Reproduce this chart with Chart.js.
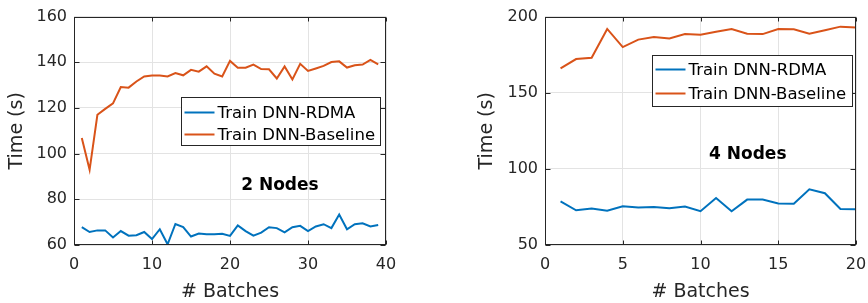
<!DOCTYPE html>
<html><head><meta charset="utf-8">
<script src="https://cdn.jsdelivr.net/npm/chart.js@4/dist/chart.umd.min.js"></script>
<style>
body{margin:0;background:#fff}
#wrap{position:relative;width:868px;height:303px;overflow:hidden}
canvas{position:absolute;top:0}
</style>
</head><body>
<div id="wrap">
<canvas id="c1" width="434" height="303" style="left:0"></canvas>
<canvas id="c2" width="470" height="303" style="left:434px"></canvas>
</div>
<script>
// ---- data ----
const batches2 = [1,2,3,4,5,6,7,8,9,10,11,12,13,14,15,16,17,18,19,20,21,22,23,24,25,26,27,28,29,30,31,32,33,34,35,36,37,38,39];
const rdma2 = [67.8,65.7,66.4,66.4,63.3,66.1,64.1,64.3,65.7,62.6,66.9,60.3,69.2,67.8,63.7,65.0,64.7,64.7,64.9,64.0,68.6,66.1,64.1,65.4,67.8,67.4,65.5,67.8,68.4,66.1,68.1,69.1,67.4,73.3,66.9,69.1,69.5,68.1,68.8];
const base2 = [106.8,92.9,117.0,119.6,122.0,129.2,128.9,131.6,133.8,134.2,134.2,133.8,135.3,134.3,136.7,135.9,138.2,135.0,133.8,140.6,137.6,137.6,139.0,137.0,136.9,132.9,138.2,132.5,139.3,136.2,137.3,138.4,140.1,140.4,137.7,138.7,139.0,141.0,139.1];
const batches4 = [1,2,3,4,5,6,7,8,9,10,11,12,13,14,15,16,17,18,19,20];
const rdma4 = [78.7,72.8,73.9,72.5,75.5,74.7,74.9,74.1,75.3,72.2,80.9,72.2,79.8,79.8,77.3,77.1,86.6,84.0,73.6,73.4];
const base4 = [166.0,172.1,173.0,191.9,180.0,184.9,186.6,185.7,188.5,188.1,190.0,191.9,188.7,188.5,191.9,191.7,188.7,191.0,193.4,192.8];
const xTicks2 = [0,10,20,30,40];
const yTicks2 = [60,80,100,120,140,160];
const xTicks4 = [0,5,10,15,20];
const yTicks4 = [50,100,150,200];
const seriesNames = ['Train DNN-RDMA','Train DNN-Baseline'];
const panelLabels = ['2 Nodes','4 Nodes'];
const xTitle = '# Batches';
const yTitle = 'Time (s)';

// ---- styling ----
const FONT = "'DejaVu Sans', sans-serif";
const AX = '#262626';
const BLUE = '#0072BD', ORANGE = '#D95319';

const matlabPlugin = {
  id: 'matlab',
  afterDatasetsDraw(chart, args, o) {
    const {ctx, chartArea: a, scales: {x, y}} = chart;
    const L = Math.round(a.left) + 0.5, R = Math.round(a.right) - 0.5;
    const T = Math.round(a.top) + 0.5, B = Math.round(a.bottom) - 0.5;
    ctx.save();
    ctx.strokeStyle = AX; ctx.lineWidth = 1;
    ctx.beginPath();
    x.ticks.forEach(t => {
      const p = Math.round(x.getPixelForValue(t.value)) + 0.5;
      ctx.moveTo(p, B); ctx.lineTo(p, B - 4);
      ctx.moveTo(p, T); ctx.lineTo(p, T + 4);
    });
    y.ticks.forEach(t => {
      const p = Math.round(y.getPixelForValue(t.value)) + 0.5;
      ctx.moveTo(L, p); ctx.lineTo(L + 5, p);
      ctx.moveTo(R, p); ctx.lineTo(R - 5, p);
    });
    ctx.stroke();
    ctx.strokeRect(L, T, R - L, B - T);

    // panel label
    ctx.fillStyle = '#000';
    ctx.font = "bold 17px " + FONT;
    ctx.textAlign = 'center'; ctx.textBaseline = 'middle';
    ctx.fillText(o.label, x.getPixelForValue(o.labelAt[0]), y.getPixelForValue(o.labelAt[1]));

    // legend
    const lg = o.legend;
    const bx = Math.round(a.right - lg.right - lg.w) + 0.5;
    const by = Math.round(a.top + lg.top) + 0.5;
    ctx.fillStyle = '#fff';
    ctx.fillRect(bx, by, lg.w, lg.h);
    ctx.strokeStyle = AX;
    ctx.strokeRect(bx, by, lg.w, lg.h);
    ctx.font = "16.5px " + FONT;
    ctx.textAlign = 'left';
    chart.data.datasets.forEach((ds, i) => {
      const ry = by + lg.rows[i];
      ctx.strokeStyle = ds.borderColor; ctx.lineWidth = 2;
      ctx.beginPath(); ctx.moveTo(bx + 3, ry); ctx.lineTo(bx + 33, ry); ctx.stroke();
      ctx.fillStyle = '#000';
      ctx.fillText(ds.label, bx + 36, ry + 1);
    });
    ctx.restore();
  }
};

function makeChart(id, xs, s1, s2, xt, yt, yw, padR, ytPad, label, labelAt, legend) {
  const pts = vals => xs.map((b, i) => ({x: b, y: vals[i]}));
  return new Chart(document.getElementById(id), {
    type: 'line',
    data: {datasets: [
      {label: seriesNames[0], data: pts(s1), borderColor: BLUE, borderWidth: 2, pointRadius: 0, tension: 0, fill: false},
      {label: seriesNames[1], data: pts(s2), borderColor: ORANGE, borderWidth: 2, pointRadius: 0, tension: 0, fill: false}
    ]},
    options: {
      responsive: false, animation: false, devicePixelRatio: 1, events: [],
      layout: {padding: {top: 10, right: padR, left: 0, bottom: 0}},
      plugins: {legend: {display: false}, tooltip: {enabled: false},
        matlab: {label: label, labelAt: labelAt, legend: legend}},
      scales: {
        x: {type: 'linear', min: xt[0], max: xt[xt.length - 1],
          afterBuildTicks: s => { s.ticks = xt.map(v => ({value: v})); },
          afterFit: s => { s.height = 58; },
          grid: {color: '#e3e3e3', drawTicks: false}, border: {display: false},
          ticks: {color: AX, font: {family: FONT, size: 16}, padding: 10, maxRotation: 0, autoSkip: false},
          title: {display: true, text: xTitle, color: AX, font: {family: FONT, size: 19}, padding: {top: 0, bottom: 0}}
        },
        y: {type: 'linear', min: yt[0], max: yt[yt.length - 1],
          afterBuildTicks: s => { s.ticks = yt.map(v => ({value: v})); },
          afterFit: s => { s.width = yw; },
          grid: {color: '#e3e3e3', drawTicks: false}, border: {display: false},
          ticks: {color: AX, font: {family: FONT, size: 16}, padding: 7, autoSkip: false},
          title: {display: true, text: yTitle, color: AX, font: {family: FONT, size: 19}, padding: {top: ytPad, bottom: 0}}
        }
      }
    },
    plugins: [matlabPlugin]
  });
}

makeChart('c1', batches2, rdma2, base2, xTicks2, yTicks2, 74, 48, 6, panelLabels[0], [26.4, 86],
  {right: 6, top: 80, w: 199, h: 48, rows: [15, 37]});
makeChart('c2', batches4, rdma4, base4, xTicks4, yTicks4, 111, 48, 42, panelLabels[1], [13.04, 109.4],
  {right: 4, top: 38, w: 200, h: 51, rows: [14, 38]});
</script>
</body></html>
